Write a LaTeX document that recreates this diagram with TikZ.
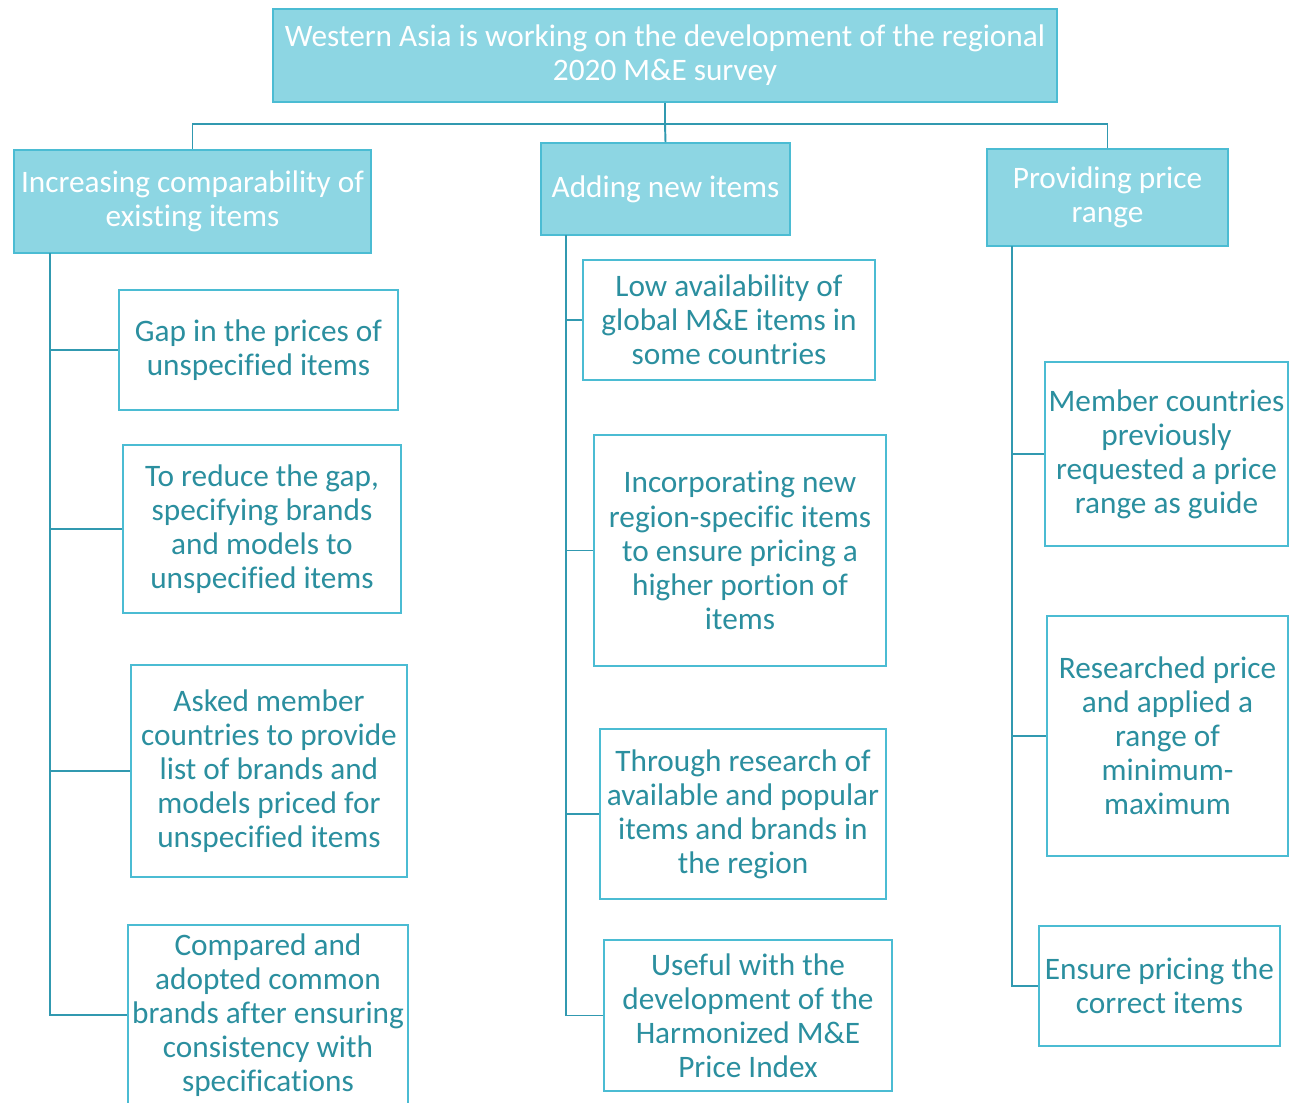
\documentclass[tikz,border=0pt]{standalone}
\usepackage{fontspec}
\setmainfont{Carlito}[Ligatures=NoCommon]
\usepackage{xcolor}
\usepackage{tikz}
\usetikzlibrary{positioning}
\definecolor{boxfill}{HTML}{8DD6E3}
\definecolor{boxline}{HTML}{4BBCD3}
\definecolor{linkcolor}{HTML}{3199B0}
\definecolor{tealtext}{HTML}{2B8F9F}

\begin{document}
\begin{tikzpicture}[x=0.02cm, y=-0.02cm]
    % Define styles
    \tikzstyle{topic} = [rectangle, draw=boxline, fill=boxfill, line width=1.1pt, text=white, align=center, inner sep=2pt, font=\fontsize{17.8}{19.4}\selectfont]
    \tikzstyle{point} = [rectangle, draw=boxline, fill=white, line width=1.1pt, text=tealtext, align=center, inner sep=2pt, font=\fontsize{17.8}{19.4}\selectfont]
    \tikzstyle{link} = [linkcolor, line width=1.1pt]
    \useasboundingbox (0,0) rectangle (1298,1102);

    % Top of the tree
    \node [topic, minimum width=15.68cm, minimum height=1.86cm] (survey) at (665,55.5) {Western Asia is working on the development of the regional\\2020 M\&E survey};

    % Three main topics
    \node [topic, minimum width=7.14cm, minimum height=2.06cm] (compare) at (192.5,201.5) {Increasing comparability of\\existing items};
    \node [topic, minimum width=4.98cm, minimum height=1.84cm] (newitems) at (665.5,189) {Adding new items};
    \node [topic, minimum width=4.82cm, minimum height=1.94cm] (range) at (1107.5,197.5) {Providing price\\range};

    % Left column
    \node [point, minimum width=5.58cm, minimum height=2.4cm] (gap) at (258.5,350) {Gap in the prices of\\unspecified items};
    \node [point, minimum width=5.56cm, minimum height=3.36cm] (reduce) at (262,529) {To reduce the gap,\\specifying brands\\and models to\\unspecified items};
    \node [point, minimum width=5.52cm, minimum height=4.24cm] (asked) at (269,771) {Asked member\\countries to provide\\list of brands and\\models priced for\\unspecified items};
    \node [point, minimum width=5.6cm, minimum height=3.6cm] (adopted) at (268,1015) {Compared and\\adopted common\\brands after ensuring\\consistency with\\specifications};

    % Middle column
    \node [point, minimum width=5.84cm, minimum height=2.4cm] (lowavail) at (729,320) {Low availability of\\global M\&E items in\\some countries};
    \node [point, minimum width=5.84cm, minimum height=4.62cm] (regional) at (740,550.5) {Incorporating new\\region-specific items\\to ensure pricing a\\higher portion of\\items};
    \node [point, minimum width=5.72cm, minimum height=3.4cm] (research) at (743,814) {Through research of\\available and popular\\items and brands in\\the region};
    \node [point, minimum width=5.76cm, minimum height=3.02cm] (useful) at (748,1015.5) {Useful with the\\development of the\\Harmonized M\&E\\Price Index};

    % Right column
    \node [point, minimum width=4.82cm, minimum height=3.68cm] (requested) at (1166.5,454) {Member countries\\previously\\requested a price\\range as guide};
    \node [point, minimum width=4.82cm, minimum height=4.8cm] (minmax) at (1167.5,736) {Researched price\\and applied a\\range of\\minimum-\\maximum};
    \node [point, minimum width=4.82cm, minimum height=2.4cm] (correct) at (1159.5,986) {Ensure pricing the\\correct items};

    % Connectors from the top
    \coordinate (hub) at (665,124);
    \draw [link] (survey.south) -- (hub);
    \draw [link] (hub) -| (compare.north);
    \draw [link] (hub) -- (newitems.north);
    \draw [link] (hub) -| (range.north);

    % Trunks of the columns
    \coordinate (ltrunk) at (50,253);
    \coordinate (mtrunk) at (566,235);
    \coordinate (rtrunk) at (1012,246);
    \foreach \leaf in {gap, reduce, asked, adopted}
        \draw [link] (ltrunk) |- (\leaf.west);
    \foreach \leaf in {lowavail, regional, research, useful}
        \draw [link] (mtrunk) |- (\leaf.west);
    \foreach \leaf in {requested, minmax, correct}
        \draw [link] (rtrunk) |- (\leaf.west);
\end{tikzpicture}
\end{document}
